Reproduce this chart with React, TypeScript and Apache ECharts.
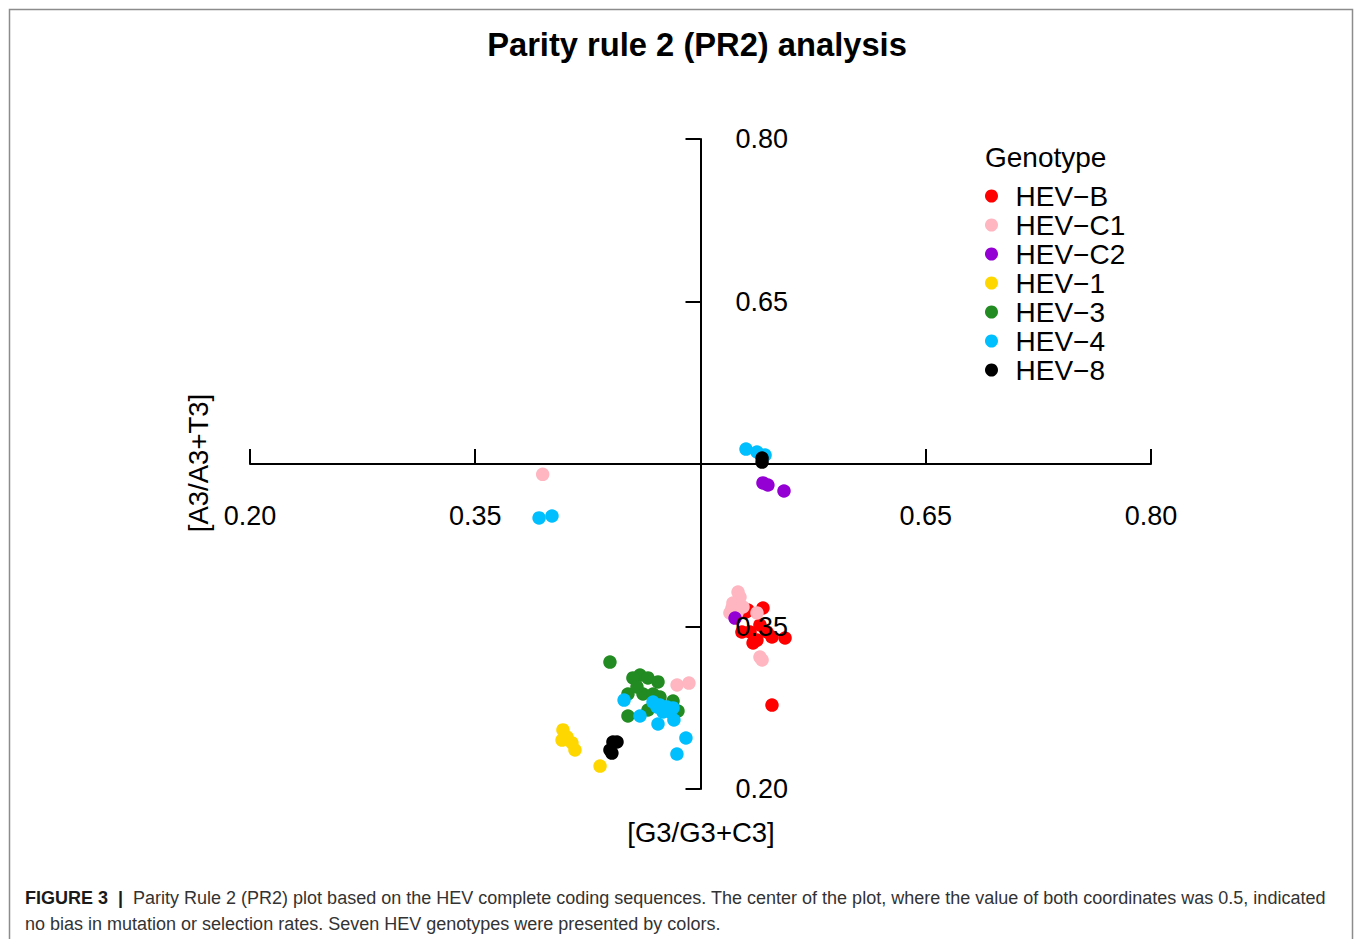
import React, { useEffect, useRef } from "react";
import * as echarts from "echarts";

const FONT = "'Liberation Sans', Arial, Helvetica, sans-serif";

const genotypes = ["HEV−B", "HEV−C1", "HEV−C2", "HEV−1", "HEV−3", "HEV−4", "HEV−8"];
const colors = ["#ff0000", "#ffb6c1", "#9400d3", "#ffd700", "#228b22", "#00bfff", "#000000"];

const hevB: number[][] = [
  [0.5303, 0.3634], [0.5416, 0.3671], [0.5316, 0.3652], [0.5276, 0.3449], [0.533, 0.3449],
  [0.535, 0.3348], [0.5376, 0.3375], [0.5476, 0.3403], [0.5563, 0.3394], [0.5396, 0.3514],
  [0.5443, 0.3449], [0.5476, 0.2775],
];
const hevC1: number[][] = [
  [0.3949, 0.4905], [0.525, 0.3818], [0.5263, 0.3772], [0.5216, 0.3717], [0.521, 0.3671],
  [0.5283, 0.368], [0.5243, 0.3625], [0.5196, 0.3625], [0.5376, 0.3625], [0.5396, 0.3218],
  [0.541, 0.3191], [0.4844, 0.296], [0.4923, 0.2978],
];
const hevC2: number[][] = [
  [0.523, 0.3578], [0.5416, 0.4825], [0.5449, 0.4806], [0.5556, 0.4751],
];
const hev1: number[][] = [
  [0.4084, 0.2545], [0.4111, 0.248], [0.4078, 0.2452], [0.4144, 0.2425], [0.4164, 0.236],
  [0.4331, 0.2212],
];
const hev3: number[][] = [
  [0.4397, 0.3172], [0.4597, 0.3052], [0.455, 0.3025], [0.465, 0.3025], [0.4717, 0.2988],
  [0.4517, 0.2877], [0.4617, 0.2877], [0.4684, 0.2877], [0.473, 0.2849], [0.4817, 0.2812],
  [0.485, 0.272], [0.4517, 0.2674], [0.465, 0.2729], [0.4577, 0.2942],
];
const hev4: number[][] = [
  [0.5303, 0.5138], [0.5376, 0.5111], [0.543, 0.5083], [0.3925, 0.4502], [0.4011, 0.452],
  [0.4491, 0.2821], [0.4597, 0.2674], [0.4717, 0.26], [0.4823, 0.2637], [0.4903, 0.2471],
  [0.4843, 0.2323], [0.4684, 0.2803], [0.473, 0.2775], [0.4777, 0.2757], [0.475, 0.2711],
  [0.4797, 0.2711], [0.471, 0.2757], [0.4817, 0.2748],
];
const hev8: number[][] = [
  [0.541, 0.5018], [0.541, 0.5055], [0.4417, 0.2434], [0.4444, 0.2434], [0.4397, 0.236],
  [0.441, 0.2332],
];
const seriesData = [hevB, hevC1, hevC2, hev1, hev3, hev4, hev8];

const tickValues = [0.2, 0.35, 0.65, 0.8];

const titleText = "Parity rule 2 (PR2) analysis";
const xName = "[G3/G3+C3]";
const yName = "[A3/A3+T3]";
const legendTitle = "Genotype";
const captionLabel = "FIGURE 3  |  ";
const captionLine1 =
  "Parity Rule 2 (PR2) plot based on the HEV complete coding sequences. The center of the plot, where the value of both coordinates was 0.5, indicated";
const captionLine2 = "no bias in mutation or selection rates. Seven HEV genotypes were presented by colors.";

export default function App() {
  const ref = useRef<HTMLDivElement>(null);
  useEffect(() => {
    if (!ref.current) return;
    const chart = echarts.init(ref.current, null, { renderer: "svg" });
    const fmt = (v: number) => v.toFixed(2);
    chart.setOption({
      animation: false,
      backgroundColor: "#ffffff",
      textStyle: { fontFamily: FONT },
      grid: { left: 250, right: 204, top: 139, bottom: 150, containLabel: false },
      xAxis: {
        type: "value",
        min: 0.2,
        max: 0.8,
        position: "bottom",
        offset: -325,
        z: 0,
        splitLine: { show: false },
        axisLine: { show: true, onZero: false, lineStyle: { color: "#000", width: 2 } },
        axisTick: { show: true, inside: true, length: 15, customValues: tickValues, lineStyle: { color: "#000", width: 2 } },
        axisLabel: {
          show: true,
          customValues: tickValues,
          formatter: fmt,
          margin: 38,
          fontSize: 27,
          color: "#000",
          fontFamily: FONT,
        },
      },
      yAxis: {
        type: "value",
        min: 0.2,
        max: 0.8,
        position: "left",
        offset: -450.5,
        z: 10,
        splitLine: { show: false },
        axisLine: { show: true, onZero: false, lineStyle: { color: "#000", width: 2 } },
        axisTick: { show: true, inside: false, length: 15, customValues: tickValues, lineStyle: { color: "#000", width: 2 } },
        axisLabel: {
          show: true,
          inside: true,
          customValues: tickValues,
          formatter: fmt,
          margin: 35,
          fontSize: 27,
          color: "#000",
          fontFamily: FONT,
        },
      },
      legend: {
        show: true,
        orient: "vertical",
        left: 980,
        top: 176.5,
        itemWidth: 38,
        itemHeight: 13,
        itemGap: 0,
        icon: "circle",
        selectedMode: false,
        data: genotypes,
        textStyle: { fontSize: 28, lineHeight: 29, color: "#000", fontFamily: FONT },
      },
      series: genotypes.map((name, i) => ({
        type: "scatter",
        name,
        data: seriesData[i],
        symbol: "circle",
        symbolSize: 13.5,
        itemStyle: { color: colors[i], opacity: 1 },
        emphasis: { disabled: true },
        z: 2,
      })),
      graphic: [
        {
          type: "rect",
          shape: { x: 9.5, y: 9.5, width: 1343, height: 960 },
          style: { fill: "none", stroke: "#8c8c8c", lineWidth: 1.5 },
          silent: true,
        },
        {
          type: "text",
          x: 697,
          y: 44,
          style: {
            text: titleText,
            font: `bold 32.7px ${FONT}`,
            fill: "#000",
            align: "center",
            verticalAlign: "middle",
          },
        },
        {
          type: "text",
          x: 985,
          y: 157,
          style: {
            text: legendTitle,
            font: `28px ${FONT}`,
            fill: "#000",
            align: "left",
            verticalAlign: "middle",
          },
        },
        {
          type: "text",
          x: 701,
          y: 832,
          style: {
            text: xName,
            font: `27.5px ${FONT}`,
            fill: "#000",
            align: "center",
            verticalAlign: "middle",
          },
        },
        {
          type: "text",
          x: 198,
          y: 463,
          rotation: Math.PI / 2,
          style: {
            text: yName,
            font: `27.5px ${FONT}`,
            fill: "#000",
            align: "center",
            verticalAlign: "middle",
          },
        },
        {
          type: "text",
          x: 25,
          y: 898,
          style: {
            text: "{b|" + captionLabel + "}{n|" + captionLine1 + "}",
            verticalAlign: "middle",
            align: "left",
            rich: {
              b: { font: `bold 18px ${FONT}`, fill: "#1a1a1a" },
              n: { font: `18px ${FONT}`, fill: "#333333" },
            },
          },
        },
        {
          type: "text",
          x: 25,
          y: 924,
          style: {
            text: captionLine2,
            font: `18px ${FONT}`,
            fill: "#333333",
            align: "left",
            verticalAlign: "middle",
          },
        },
      ],
    });
    return () => chart.dispose();
  }, []);
  return (
    <div
      ref={ref}
      style={{ position: "absolute", left: 0, top: 0, width: 1355, height: 939 }}
    />
  );
}
